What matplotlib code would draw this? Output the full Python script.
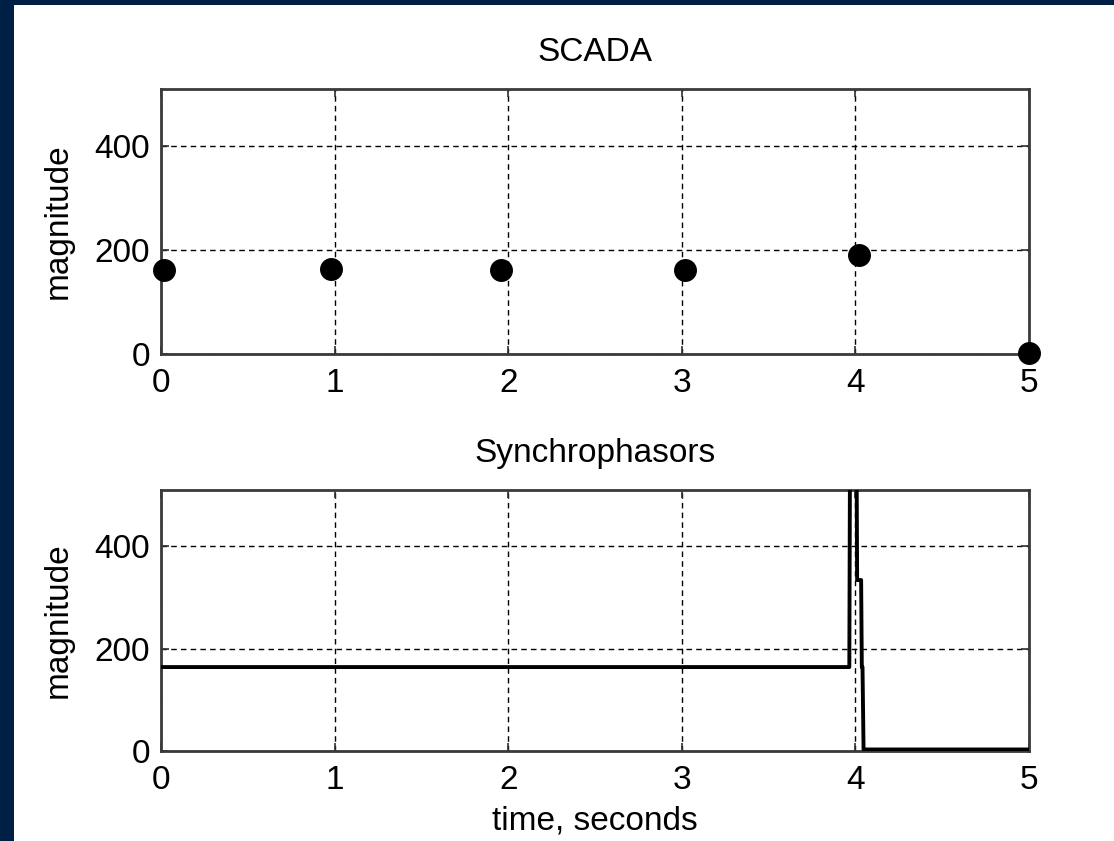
import matplotlib.pyplot as plt
from matplotlib.patches import Rectangle

plt.rcParams['font.family'] = ['Liberation Sans', 'DejaVu Sans']

# SCADA samples
scada_t = [0.02, 0.98, 1.96, 3.02, 4.02, 5.0]
scada_v = [162, 163, 162, 161, 191, 3]

# synchrophasor trace
syn_t = [0, 3.965, 3.97, 4.005, 4.01, 4.033, 4.037, 4.041, 4.047, 5]
syn_v = [164, 164, 700, 700, 334, 334, 164, 164, 3, 3]

xticks = [0, 1, 2, 3, 4, 5]
yticks = [0, 200, 400]

fig = plt.figure(figsize=(11.14, 8.41), dpi=100)
fig.patch.set_facecolor('#001f45')
fig.patches.append(Rectangle((14 / 1114, 0), 1, 1 - 5 / 841, transform=fig.transFigure,
                             facecolor='white', edgecolor='none', zorder=-10))

ax1 = fig.add_axes([0.1445, 0.579, 0.7792, 0.3152])
ax2 = fig.add_axes([0.1445, 0.107, 0.7792, 0.3104])

grid_kw = dict(color='black', linestyle=(0, (4, 3)), linewidth=1.0)

for ax in (ax1, ax2):
    ax.set_xlim(0, 5)
    ax.set_ylim(0, 510)
    ax.set_xticks(xticks)
    ax.set_yticks(yticks)
    ax.grid(True, **grid_kw)
    ax.tick_params(direction='in', length=6, labelsize=24, top=True, right=True,
                   width=1.2, color='#303030')
    ax.tick_params(axis='x', pad=10)
    ax.tick_params(axis='y', pad=8)
    for s in ax.spines.values():
        s.set_linewidth(2)
        s.set_color('#3a3a3a')
    ax.set_ylabel('magnitude', fontsize=24, labelpad=15)

ax1.plot(scada_t, scada_v, 'o', color='black', markersize=15.5, clip_on=False, zorder=5)
ax1.set_title('SCADA', fontsize=24, pad=20)

ax2.plot(syn_t, syn_v, '-', color='black', linewidth=2.8, zorder=5)
ax2.set_title('Synchrophasors', fontsize=24, pad=20)
ax2.set_xlabel('time, seconds', fontsize=24, labelpad=7)

fig.savefig('out.png', dpi=100, facecolor=fig.get_facecolor())
